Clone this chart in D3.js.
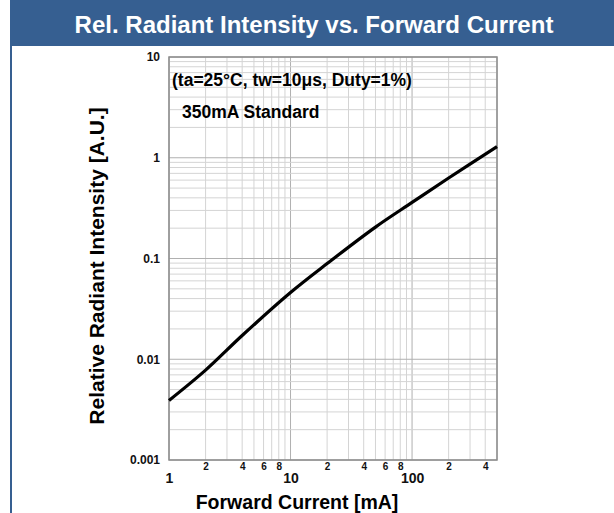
<!DOCTYPE html>
<html>
<head>
<meta charset="utf-8">
<script src="https://cdn.jsdelivr.net/npm/d3@7"></script>
<style>
  body { margin: 0; background: #fff; }
  text { font-family: "Liberation Sans", Arial, sans-serif; font-weight: bold; }
</style>
</head>
<body>
<script>
// data
var currents = [1, 2, 4, 10, 20, 50, 100, 200, 500];          // mA
var intensity = [0.0039, 0.0078, 0.0172, 0.046, 0.089, 0.205, 0.36, 0.63, 1.29];
var yTickLabels = [0.001, 0.01, 0.1, 1, 10];
var xMajorTicks = [1, 10, 100];
var xMinorLabels = [2, 4, 6, 8, 20, 40, 60, 80, 200, 400];

var totalWidth = 614, totalHeight = 513;
var headerColor = "#365f91";

var svg = d3.select("body").append("svg")
    .attr("width", totalWidth)
    .attr("height", totalHeight);

// header bar + left border
svg.append("rect").attr("x", 10).attr("y", 0).attr("width", totalWidth - 10).attr("height", 46).attr("fill", headerColor);
svg.append("rect").attr("x", 10).attr("y", 0).attr("width", 2).attr("height", totalHeight).attr("fill", headerColor);
svg.append("text")
    .attr("x", 314).attr("y", 33)
    .attr("text-anchor", "middle")
    .attr("fill", "#fff")
    .style("font-size", "24px")
    .text("Rel. Radiant Intensity vs. Forward Current");

var xScale = d3.scaleLog().domain([1, 500]).range([169, 497]);
var yScale = d3.scaleLog().domain([0.001, 10]).range([460, 57]);

// grid values every 1..9 per decade
var xGrid = [], yGrid = [];
[1, 10, 100].forEach(d => { for (var k = 1; k <= 9; k++) if (d * k <= 500) xGrid.push(d * k); });
xGrid.push(500);
[0.001, 0.01, 0.1, 1].forEach(d => { for (var k = 1; k <= 9; k++) yGrid.push(+(d * k).toPrecision(3)); });
yGrid.push(10);

var grid = svg.append("g");
grid.selectAll(".vgrid").data(xGrid).enter().append("line")
    .attr("x1", d => xScale(d)).attr("x2", d => xScale(d))
    .attr("y1", yScale(10)).attr("y2", yScale(0.001))
    .attr("stroke", d => xMajorTicks.includes(d) ? "#b0b0b0" : "#d4d4d4")
    .attr("stroke-width", 1);
grid.selectAll(".hgrid").data(yGrid).enter().append("line")
    .attr("x1", xScale(1)).attr("x2", xScale(500))
    .attr("y1", d => yScale(d)).attr("y2", d => yScale(d))
    .attr("stroke", d => yTickLabels.includes(d) ? "#b0b0b0" : "#d4d4d4")
    .attr("stroke-width", 1);

// frame
svg.append("rect")
    .attr("x", xScale(1)).attr("y", yScale(10))
    .attr("width", xScale(500) - xScale(1))
    .attr("height", yScale(0.001) - yScale(10))
    .attr("fill", "none").attr("stroke", "#8c8c8c").attr("stroke-width", 1.5);

// y axis labels
var yAxis = d3.axisLeft(yScale).tickValues(yTickLabels).tickSize(0).tickPadding(9)
    .tickFormat(d => d >= 1 ? d3.format("d")(d) : d3.format(".3~f")(d));
var yAxisBox = svg.append("g").attr("transform", "translate(" + xScale(1) + ",0)").call(yAxis);
yAxisBox.select(".domain").remove();
yAxisBox.selectAll("text").style("font-size", "12px").attr("fill", "#111");

// x axis minor labels
var xMinor = d3.axisBottom(xScale).tickValues(xMinorLabels).tickSize(0).tickPadding(3)
    .tickFormat(d => String(d).charAt(0));
var xMinorBox = svg.append("g").attr("transform", "translate(0," + yScale(0.001) + ")").call(xMinor);
xMinorBox.select(".domain").remove();
xMinorBox.selectAll("text").style("font-size", "10px").attr("fill", "#111");

// x axis major labels
var xMajor = d3.axisBottom(xScale).tickValues(xMajorTicks).tickSize(0).tickPadding(13)
    .tickFormat(d3.format("d"));
var xMajorBox = svg.append("g").attr("transform", "translate(0," + yScale(0.001) + ")").call(xMajor);
xMajorBox.select(".domain").remove();
xMajorBox.selectAll("text").style("font-size", "14px").attr("fill", "#111");

// axis titles
svg.append("text")
    .attr("x", 297).attr("y", 509)
    .attr("text-anchor", "middle")
    .style("font-size", "19.5px")
    .text("Forward Current [mA]");
svg.append("text")
    .attr("transform", "translate(104,266) rotate(-90)")
    .attr("text-anchor", "middle")
    .style("font-size", "21px")
    .text("Relative Radiant Intensity [A.U.]");

// annotations
svg.append("text").attr("x", 172).attr("y", 86).style("font-size", "17.5px")
    .text("(ta=25°C, tw=10μs, Duty=1%)");
svg.append("text").attr("x", 182).attr("y", 118).style("font-size", "17.5px")
    .text("350mA Standard");

// curve
var line = d3.line()
    .x((d, i) => xScale(currents[i]))
    .y(d => yScale(d))
    .curve(d3.curveCatmullRom.alpha(0.5));
svg.append("path")
    .datum(intensity)
    .attr("d", line)
    .attr("fill", "none")
    .attr("stroke", "#000")
    .attr("stroke-width", 3.2);
</script>
</body>
</html>
